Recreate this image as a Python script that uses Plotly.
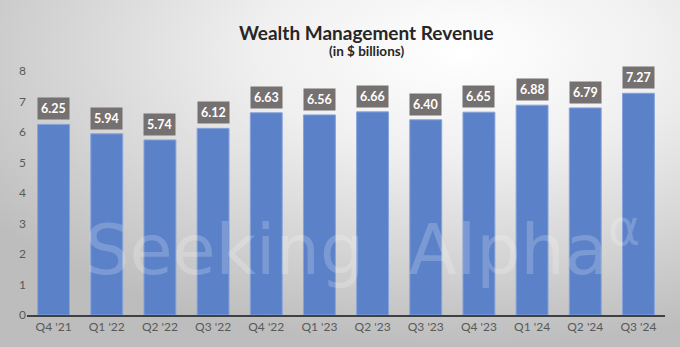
import base64
import plotly.graph_objects as go

quarters = ["Q4 '21", "Q1 '22", "Q2 '22", "Q3 '22", "Q4 '22", "Q1 '23",
            "Q2 '23", "Q3 '23", "Q4 '23", "Q1 '24", "Q2 '24", "Q3 '24"]
revenue = [6.25, 5.94, 5.74, 6.12, 6.63, 6.56, 6.66, 6.40, 6.65, 6.88, 6.79, 7.27]

W, H = 680, 347
ml, mr, mt, mb = 27, 15, 71, 32
pw, ph = W - ml - mr, H - mt - mb

svg = f'''<svg xmlns="http://www.w3.org/2000/svg" width="{W}" height="{H}">
<defs><radialGradient id="g" cx="0.68" cy="0.15" r="0.85" gradientUnits="objectBoundingBox">
<stop offset="0" stop-color="#ffffff"/><stop offset="0.35" stop-color="#f0f0f0"/>
<stop offset="1" stop-color="#bdbdbd"/></radialGradient></defs>
<rect width="{W}" height="{H}" fill="url(#g)"/></svg>'''
bg = "data:image/svg+xml;base64," + base64.b64encode(svg.encode()).decode()

fig = go.Figure(go.Bar(
    x=quarters, y=revenue,
    marker=dict(color="#5b81c9", line=dict(color="#86a3da", width=1)),
    hoverinfo="skip",
))

for q, v in zip(quarters, revenue):
    fig.add_annotation(x=q, y=v, text=f"<b>{v:.2f}</b>", showarrow=False,
                       yanchor="bottom", yshift=4, bgcolor="#767171",
                       font=dict(color="white", size=12.5, family="Lato"),
                       borderpad=3)

fig.add_annotation(xref="paper", yref="paper", x=(362 - ml) / pw, y=(315 - 245) / ph,
                   yanchor="middle", xanchor="center",
                   text="Seeking  Alpha<sup>\u03b1</sup>", showarrow=False,
                   font=dict(family="DejaVu Sans", size=70, color="rgba(255,255,255,0.2)"))

fig.add_annotation(xref="paper", yref="paper", x=(366 - ml) / pw, y=1 + (mt - 33) / ph,
                   text="<b>Wealth Management Revenue</b>", showarrow=False,
                   yanchor="middle", font=dict(size=19, color="#262626", family="Lato"))
fig.add_annotation(xref="paper", yref="paper", x=(366 - ml) / pw, y=1 + (mt - 51) / ph,
                   text="<b>(in $ billions)</b>", showarrow=False,
                   yanchor="middle", font=dict(size=13.5, color="#262626", family="Lato"))

fig.update_layout(
    width=W, height=H,
    margin=dict(l=ml, r=mr, t=mt, b=mb),
    paper_bgcolor="#d9d9d9", plot_bgcolor="rgba(0,0,0,0)",
    bargap=0.4, showlegend=False,
    font=dict(family="Lato", color="#595959"),
    images=[dict(source=bg, xref="paper", yref="paper",
                 x=-ml / pw, y=1 + mt / ph, sizex=W / pw, sizey=H / ph,
                 xanchor="left", yanchor="top", sizing="stretch", layer="below")],
    xaxis=dict(showgrid=False, showline=True, linecolor="#404040", linewidth=2,
               tickfont=dict(size=12, color="#595959"), ticks=""),
    yaxis=dict(range=[0, 8], dtick=1, showgrid=False, zeroline=False,
               tickfont=dict(size=12, color="#595959"), ticks=""),
)

fig.write_html("out.html")
